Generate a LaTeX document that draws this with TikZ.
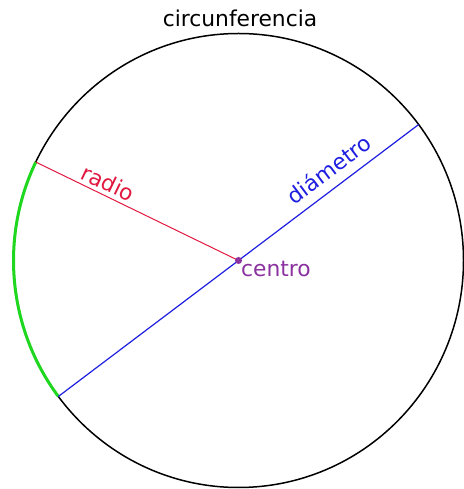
\documentclass[tikz,border=0pt]{standalone}
\usepackage{fontspec}
\setmainfont{DejaVu Sans}
\definecolor{radcol}{RGB}{225,25,65}
\definecolor{diacol}{RGB}{30,30,225}
\definecolor{cencol}{RGB}{140,50,160}
\definecolor{arccol}{RGB}{30,215,30}
\tikzset{
  lbl/.style={inner sep=0pt, font=\fontsize{21.8}{25}\selectfont},
  rim/.style={draw=black, line width=1.5pt},
}
\begin{document}
\begin{tikzpicture}[x=1pt,y=1pt]
\useasboundingbox[fill=white] (0,0) rectangle (463,489);
\coordinate (O) at (238.5,228.5);
\path (O) ++(154.3:225 and 227) coordinate (R);
\path (O) ++(36.8:225 and 227) coordinate (D1);
\path (O) ++(216.8:225 and 227) coordinate (D2);
\draw[rim] (O) circle[x radius=225, y radius=227];
\draw[arccol, line width=3pt] (R) arc[start angle=154.3, end angle=216.8, x radius=225, y radius=227];
\draw[radcol, line width=1pt] (O) -- (R);
\draw[diacol, line width=1.2pt] (D2) -- (D1);
\node[circle, fill=cencol, inner sep=0pt, minimum size=7pt] (dot) at (O) {};
\node[lbl, anchor=base] (tit) at (240,462) {circunferencia};
\node[lbl, anchor=base west, text=cencol] (cen) at (241,212) {centro};
\node[lbl, text=radcol, rotate=-25.7] (rad) at (108,306) {radio};
\node[lbl, text=diacol, rotate=36.9] (dia) at (329,320) {diámetro};
\end{tikzpicture}
\end{document}
